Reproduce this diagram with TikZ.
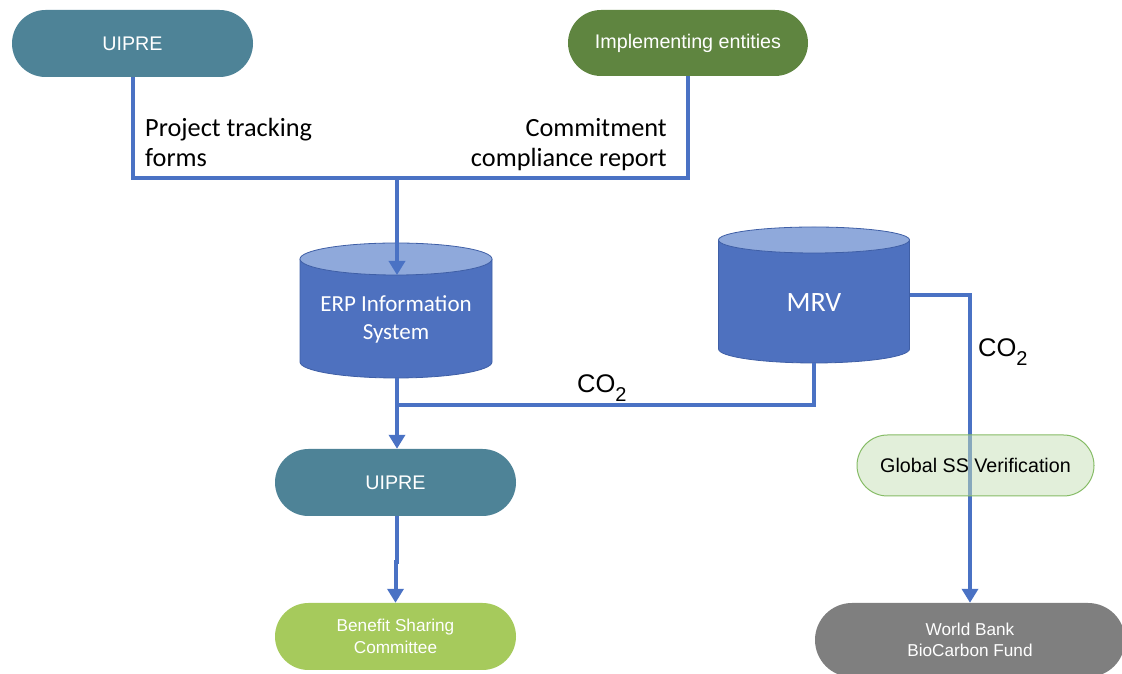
\documentclass[tikz,border=0pt]{standalone}
\usepackage{fontspec}
\setmainfont{Carlito}
\newfontfamily\arialfont{Liberation Sans}
\usetikzlibrary{arrows.meta,shapes.misc}

\definecolor{uiprecol}{HTML}{4E8397}
\definecolor{implcol}{HTML}{5F8540}
\definecolor{linkblue}{HTML}{4A72C4}
\definecolor{cylbody}{HTML}{4E71BF}
\definecolor{cyltop}{HTML}{8FA9DB}
\definecolor{cyledge}{HTML}{3F5FA6}
\definecolor{verifill}{HTML}{C5DFB5}
\definecolor{veriedge}{HTML}{86BC66}
\definecolor{benefitcol}{HTML}{A6CA5C}
\definecolor{bankcol}{HTML}{7F7F7F}

\newcommand{\cotwo}{CO\raisebox{-9pt}{\fontsize{20}{20}\selectfont 2}}

% draws a database cylinder: centre x, rx, top centre y, top ry, bottom centre y, bottom ry
\newcommand{\dbcyl}[6]{%
  \fill[cylbody] (#1-#2,#3) -- (#1-#2,#5)
     arc[start angle=180,end angle=360,x radius=#2,y radius=#6]
     -- (#1+#2,#3) -- cycle;
  \draw[cyledge,line width=0.8pt] (#1-#2,#3) -- (#1-#2,#5)
     arc[start angle=180,end angle=360,x radius=#2,y radius=#6]
     -- (#1+#2,#3);
  \draw[cyledge,line width=0.8pt,fill=cyltop] (#1,#3) ellipse[x radius=#2,y radius=#4];
}

\begin{document}
\begin{tikzpicture}[x=1pt,y=1pt,
  pill/.style={rounded rectangle, inner sep=2pt, align=center},
  arialbig/.style={font=\arialfont\fontsize{19.7}{23}\selectfont},
  arialsmall/.style={font=\arialfont\fontsize{17.2}{21.5}\selectfont},
  link/.style={draw=linkblue, line width=4pt},
  tip/.style={-{Triangle[width=16pt,length=14pt]}},
  flowlabel/.style={font=\fontsize{26.3}{30}\selectfont, inner sep=0pt},
  co/.style={font=\arialfont\fontsize{25.5}{30}\selectfont, inner sep=0pt},
  hidden/.style={inner sep=0pt, outer sep=0pt}
]
\useasboundingbox (0,0) rectangle (1122,674);
\clip (0,0) rectangle (1122,674);

% --- sources ---
\node[pill, arialbig, fill=uiprecol, text=white, minimum width=245pt, minimum height=67pt]
  (u1) at (132.5,630.5) {UIPRE};
\node[pill, arialbig, fill=implcol, text=white, minimum width=244pt, minimum height=66pt]
  (impl) at (688,631) {Implementing entities};

% --- databases ---
\dbcyl{396}{96}{415}{16}{312}{16}
\node[hidden, minimum width=192pt, minimum height=135pt] (erp) at (396,363.5) {};
\coordinate (erptop) at (396,399);
\node[align=center, text=white, font=\fontsize{23}{28}\selectfont] (erptext) at (396,355)
  {ERP Information\\System};

\dbcyl{814}{95.5}{434}{13}{325}{14}
\node[hidden, minimum width=191pt, minimum height=136pt] (mrv) at (814,379) {};
\node[text=white, font=\fontsize{28}{32}\selectfont] (mrvtext) at (814,371) {MRV};

% --- lower boxes ---
\node[pill, arialbig, fill=uiprecol, text=white, minimum width=245pt, minimum height=67pt]
  (u2) at (395.5,191.5) {UIPRE};
\node[pill, arialsmall, fill=benefitcol, text=white, minimum width=245pt, minimum height=67pt]
  (ben) at (395.5,37.5) {Benefit Sharing\\Committee};
\node[pill, arialsmall, fill=bankcol, text=white, minimum width=314pt, minimum height=74pt]
  (wb) at (970,34) {World Bank\\BioCarbon Fund};

% --- reporting flows ---
\coordinate (j1) at (397,496);
\draw[link] (u1.south) |- (j1) -| (impl.south);
\draw[link,tip] (j1) -- (j1 |- erptop);

\node[flowlabel, align=left, anchor=west] (ptf) at (145,532) {Project tracking\\forms};
\node[flowlabel, align=right, anchor=east] (ccr) at (667,529) {Commitment\\compliance report};

% --- emission flows ---
\coordinate (j2) at (397,269);
\draw[link,tip] (j2 |- erp.south) -- (j2 |- u2.north);
\draw[link] (mrv.south) |- (j2);
\node[co, anchor=base west] (co1) at (577,281) {\cotwo};

\coordinate (mrvr) at (909.5,379);
\draw[link,tip] (mrvr) -| (wb.north);
\node[co, anchor=base west] (co2) at (978,317) {\cotwo};

\node[pill, arialbig, draw=veriedge, line width=1pt, fill=verifill, fill opacity=0.5,
  text opacity=1, minimum width=241pt, minimum height=61pt]
  (gss) at (975.5,208.5) {Global SS Verification};

\coordinate (k) at (397,112);
\draw[link,tip] (u2.south -| k) -- (k) -- (k -| ben.north) -- (ben.north);

\end{tikzpicture}
\end{document}
